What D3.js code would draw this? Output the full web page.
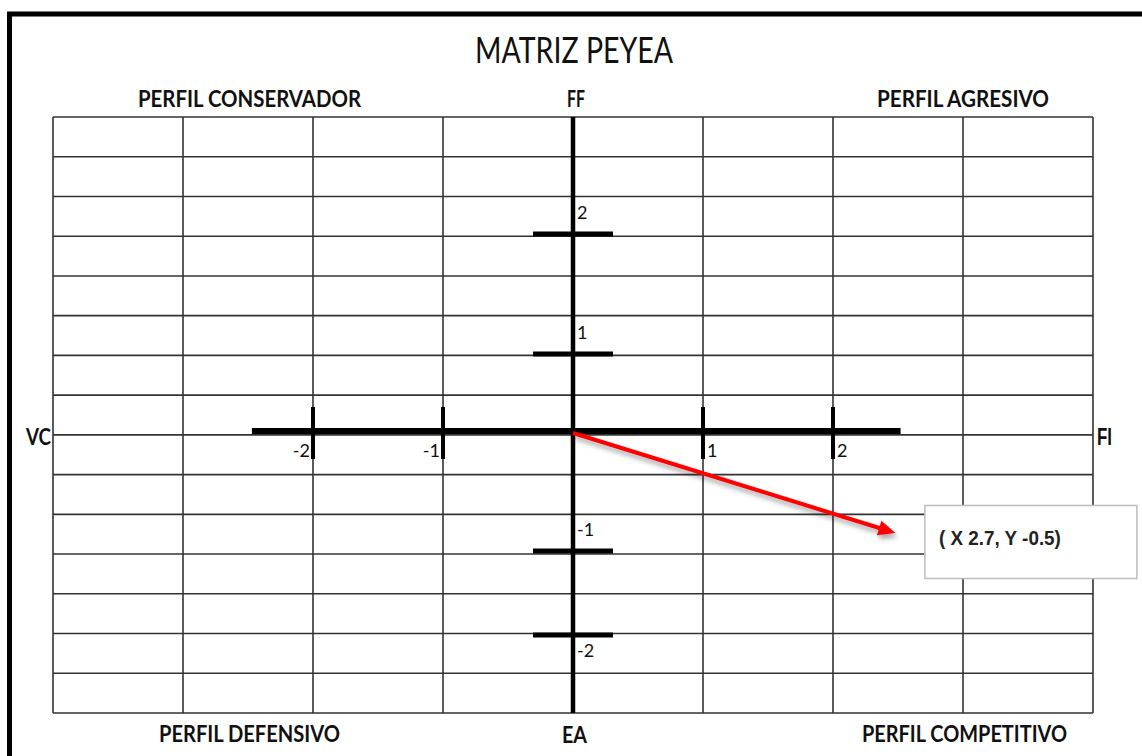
<!DOCTYPE html>
<html>
<head>
<meta charset="utf-8">
<script src="https://cdn.jsdelivr.net/npm/d3@7/dist/d3.min.js"></script>
<style>
  html, body { margin: 0; padding: 0; background: #fff; }
  svg { display: block; }
</style>
</head>
<body>
<svg width="1142" height="756"></svg>
<script>
// data
var title = "MATRIZ PEYEA";
var quadrants = ["PERFIL CONSERVADOR", "PERFIL AGRESIVO", "PERFIL DEFENSIVO", "PERFIL COMPETITIVO"];
var axisNames = ["FF", "EA", "VC", "FI"];
var xTicks = [-2, -1, 1, 2];
var yTicks = [-2, -1, 1, 2];
var vectorEnd = {x: 2.48, y: -0.85};
var pointLabel = "( X 2.7, Y -0.5)";

var svg = d3.select("svg"),
    width = +svg.attr("width"),
    height = +svg.attr("height");

var calibri = "Lato, 'Open Sans', sans-serif",
    narrow = "'Liberation Sans Narrow', 'Arial Narrow', 'Liberation Sans', sans-serif";

// x is even, y ticks in the original are hand placed (uneven)
var x = d3.scaleLinear().domain([-4, 4]).range([53, 1093]);
var y = d3.scaleLinear().domain([-2, -1, 0, 1, 2]).range([635, 551, 431, 354, 234]);
var gridY = d3.scaleLinear().domain([0, 15]).range([117, 713]);

var defs = svg.append("defs");
var shadow = defs.append("filter").attr("id", "shadow")
  .attr("x", "-20%").attr("y", "-20%").attr("width", "140%").attr("height", "160%");
shadow.append("feDropShadow")
  .attr("dx", 2).attr("dy", 4).attr("stdDeviation", 2.5)
  .attr("flood-color", "#000").attr("flood-opacity", 0.35);

// outer frame (cut on right and bottom)
svg.append("rect")
  .attr("x", 9.5).attr("y", 14)
  .attr("width", 1200).attr("height", 800)
  .attr("fill", "none").attr("stroke", "#000").attr("stroke-width", 5);

// title
svg.append("text")
  .attr("x", 475).attr("y", 63)
  .attr("textLength", 198).attr("lengthAdjust", "spacingAndGlyphs")
  .style("font-family", calibri).style("font-size", "36px")
  .attr("fill", "#111")
  .text(title);

// grid
var grid = svg.append("g").attr("stroke", "#333").attr("stroke-width", 1.6);
grid.selectAll("line.v")
  .data(d3.range(-4, 5))
  .enter().append("line")
    .attr("class", "v")
    .attr("x1", function(d) { return x(d); })
    .attr("x2", function(d) { return x(d); })
    .attr("y1", gridY(0)).attr("y2", gridY(15));
grid.selectAll("line.h")
  .data(d3.range(0, 16))
  .enter().append("line")
    .attr("class", "h")
    .attr("y1", function(d) { return gridY(d); })
    .attr("y2", function(d) { return gridY(d); })
    .attr("x1", x(-4)).attr("x2", x(4));

// main axes
var axes = svg.append("g").attr("stroke", "#000");
axes.append("line")
  .attr("x1", x(0)).attr("x2", x(0))
  .attr("y1", gridY(0)).attr("y2", gridY(15))
  .attr("stroke-width", 4.5);
axes.append("line")
  .attr("x1", x(-2.47)).attr("x2", x(2.52))
  .attr("y1", y(0)).attr("y2", y(0))
  .attr("stroke-width", 6);

// x tick marks
axes.selectAll("line.xt")
  .data(xTicks)
  .enter().append("line")
    .attr("class", "xt")
    .attr("x1", function(d) { return x(d); })
    .attr("x2", function(d) { return x(d); })
    .attr("y1", y(0) - 24).attr("y2", y(0) + 28)
    .attr("stroke-width", 4);

// y tick marks
axes.selectAll("line.yt")
  .data(yTicks)
  .enter().append("line")
    .attr("class", "yt")
    .attr("y1", function(d) { return y(d); })
    .attr("y2", function(d) { return y(d); })
    .attr("x1", x(0) - 40).attr("x2", x(0) + 40)
    .attr("stroke-width", 5);

// tick labels
svg.selectAll("text.xl")
  .data(xTicks)
  .enter().append("text")
    .attr("class", "xl")
    .attr("x", function(d) { return d < 0 ? x(d) - 3 : x(d) + 4; })
    .attr("y", y(0) + 26)
    .attr("text-anchor", function(d) { return d < 0 ? "end" : "start"; })
    .style("font-family", calibri).style("font-size", "18px")
    .attr("fill", "#111")
    .text(function(d) { return d; });

svg.selectAll("text.yl")
  .data(yTicks)
  .enter().append("text")
    .attr("class", "yl")
    .attr("x", x(0) + 4)
    .attr("y", function(d) { return d == -2 ? y(d) + 22 : y(d) - 15; })
    .style("font-family", calibri).style("font-size", "18px")
    .attr("fill", "#111")
    .text(function(d) { return d; });

// quadrant and axis names
var labels = [
  {t: quadrants[0], x: 138, y: 107, w: 223},
  {t: quadrants[1], x: 877, y: 107, w: 172},
  {t: quadrants[2], x: 159, y: 742, w: 181},
  {t: quadrants[3], x: 862, y: 742, w: 205},
  {t: axisNames[0], x: 567, y: 107, w: 18},
  {t: axisNames[1], x: 562, y: 743, w: 25},
  {t: axisNames[2], x: 26, y: 445, w: 25},
  {t: axisNames[3], x: 1097, y: 445, w: 15}
];
svg.selectAll("text.lab")
  .data(labels)
  .enter().append("text")
    .attr("class", "lab")
    .attr("x", function(d) { return d.x; })
    .attr("y", function(d) { return d.y; })
    .attr("textLength", function(d) { return d.w; })
    .attr("lengthAdjust", "spacingAndGlyphs")
    .style("font-family", function(d) { return d.t == "FI" ? narrow : calibri; })
    .style("font-weight", "bold").style("font-size", "23.5px")
    .attr("fill", "#111")
    .text(function(d) { return d.t; });

// red vector
var x0 = x(0), y0 = y(0) + 2,
    x1 = x(vectorEnd.x), y1 = y(vectorEnd.y);
var ang = Math.atan2(y1 - y0, x1 - x0),
    headLen = 17, headW = 7.5;
var bx = x1 - headLen * Math.cos(ang), by = y1 - headLen * Math.sin(ang);
var arrow = svg.append("g").attr("filter", "url(#shadow)");
arrow.append("line")
  .attr("x1", x0).attr("y1", y0)
  .attr("x2", bx + Math.cos(ang)).attr("y2", by + Math.sin(ang))
  .attr("stroke", "#ff0000").attr("stroke-width", 4);
arrow.append("path")
  .attr("d", d3.line()([
    [x1, y1],
    [bx - headW * Math.sin(ang), by + headW * Math.cos(ang)],
    [bx + headW * Math.sin(ang), by - headW * Math.cos(ang)]
  ]) + "Z")
  .attr("fill", "#ff0000");

// point label box
var box = svg.append("g").attr("transform", "translate(" + (x1 + 29.5) + "," + (y1 - 27.5) + ")");
box.append("rect")
  .attr("width", 212).attr("height", 73)
  .attr("fill", "#fff").attr("stroke", "#bdbdbd").attr("stroke-width", 1.5);
box.append("text")
  .attr("x", 14).attr("y", 39)
  .attr("textLength", 122).attr("lengthAdjust", "spacingAndGlyphs")
  .style("font-family", narrow).style("font-weight", "bold").style("font-size", "21px")
  .attr("fill", "#222")
  .text(pointLabel);
</script>
</body>
</html>
